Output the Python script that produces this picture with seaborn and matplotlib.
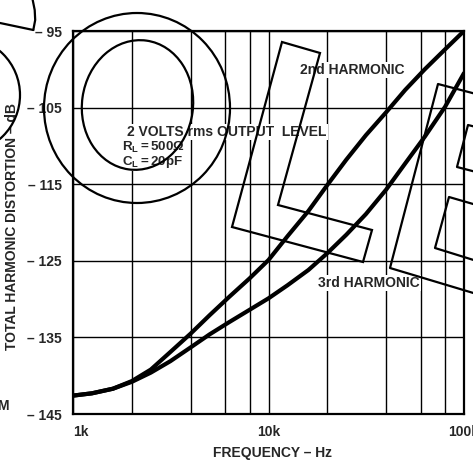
import matplotlib
matplotlib.use("Agg")
import numpy as np
import pandas as pd
import matplotlib.pyplot as plt
import seaborn as sns
from matplotlib.patches import Ellipse, Polygon
from matplotlib.lines import Line2D
from matplotlib.transforms import Affine2D
from matplotlib.ticker import NullFormatter

# Distortion vs. frequency, 2 V rms output
freq_hz = [1000, 1250, 1600, 2000, 2500, 3150, 4000, 5000, 6300, 8000, 10000,
           12500, 16000, 20000, 25000, 31500, 40000, 50000, 63000, 80000, 100000]
thd_2nd = [-142.6, -142.3, -141.7, -140.7, -139.2, -136.9, -134.5, -132.1,
           -129.7, -127.3, -124.9, -121.8, -118.5, -115.1, -111.8, -108.6,
           -105.6, -102.7, -100.0, -97.4, -95.0]
thd_3rd = [-142.6, -142.3, -141.7, -140.8, -139.6, -138.1, -136.3, -134.6,
           -133.0, -131.4, -129.9, -128.2, -126.2, -124.0, -121.6, -118.9,
           -115.7, -112.3, -108.8, -104.9, -100.5]

x_ticks = [1000, 10000, 100000]
x_tick_labels = ["1k", "10k", "100k"]
x_grid = [2000, 4000, 6000, 8000, 20000, 40000, 60000, 80000]
db_ticks = [-145, -135, -125, -115, -105, -95]

sns.set_style("white")
plt.rcParams["font.family"] = ["Liberation Sans", "DejaVu Sans"]
plt.rcParams["font.weight"] = "bold"
plt.rcParams["mathtext.fontset"] = "custom"
plt.rcParams["mathtext.rm"] = "Liberation Sans:bold"
plt.rcParams["mathtext.bf"] = "Liberation Sans:bold"
plt.rcParams["mathtext.it"] = "Liberation Sans:bold"

W, H = 473, 465
fig = plt.figure(figsize=(W / 100, H / 100), dpi=100)
ax = fig.add_axes([73 / W, 1 - 414 / H, (464 - 73) / W, (414 - 31) / H])
ax.set_xscale("log")

df = pd.DataFrame({
    "freq": freq_hz * 2,
    "thd": thd_2nd + thd_3rd,
    "harmonic": ["2nd"] * len(freq_hz) + ["3rd"] * len(freq_hz),
})
sns.lineplot(data=df, x="freq", y="thd", hue="harmonic",
             palette=["black", "black"], linewidth=3.0, legend=False,
             ax=ax, zorder=3)
for ln in ax.lines:
    ln.set_solid_capstyle("round")
    ln.set_solid_joinstyle("round")

ax.set_xlim(1000, 100000)
ax.set_ylim(-145, -95)
ax.set_xlabel("")
ax.set_ylabel("")
ax.set_xticks(x_ticks, x_tick_labels)
ax.set_xticks(x_grid, minor=True)
ax.xaxis.set_minor_formatter(NullFormatter())
ax.set_yticks(db_ticks, [f"\u2013 {abs(v)}" for v in db_ticks])
ax.set_axisbelow(True)
ax.grid(True, which="both", axis="x", color="black", lw=1.0)
ax.grid(True, which="major", axis="y", color="black", lw=1.0)
ax.tick_params(which="both", length=0)
ax.tick_params(axis="y", pad=8, labelsize=10)
ax.tick_params(axis="x", pad=8, labelsize=10)
for lab in ax.get_xticklabels() + ax.get_yticklabels():
    lab.set_fontweight("bold")
ax.get_xticklabels()[0].set_horizontalalignment("left")
for s in ax.spines.values():
    s.set_color("black")
    s.set_linewidth(1.6)

# pixel coordinates, origin at the top-left corner of the figure
px = Affine2D().scale(1 / W, -1 / H).translate(0, 1) + fig.transFigure

box = dict(facecolor="white", edgecolor="none", pad=1.0)
ax.text(300, 70, "2nd HARMONIC", transform=px, ha="left", va="center",
        fontsize=10, fontweight="bold", bbox=box, zorder=2.5)
ax.text(318, 283, "3rd HARMONIC", transform=px, ha="left", va="center",
        fontsize=10, fontweight="bold", bbox=box, zorder=2.5)
ax.text(127, 132, "2 VOLTS rms OUTPUT  LEVEL", transform=px, ha="left",
        va="center", fontsize=10, fontweight="bold", bbox=box, zorder=2.5)
ax.text(122, 147, r"$\mathbf{R_L = 500\Omega}$", transform=px, ha="left",
        va="center", fontsize=9.6, bbox=box, zorder=2.5)
ax.text(122, 162, r"$\mathbf{C_L = 20pF}$", transform=px, ha="left",
        va="center", fontsize=9.6, bbox=box, zorder=2.5)

fig.text(12, 226, "TOTAL HARMONIC DISTORTION \u2013 dB", transform=px,
         rotation=90, ha="center", va="center", fontsize=10,
         fontweight="bold")
fig.text(272, 453, "FREQUENCY \u2013 Hz", transform=px, ha="center",
         va="center", fontsize=10, fontweight="bold")
fig.text(3, 406, "M", transform=px, ha="center", va="center", fontsize=10,
         fontweight="bold")

# hand-drawn outlines over the chart
pen = dict(fill=False, ec="black", lw=1.6, transform=px, zorder=5)
fig.add_artist(Ellipse((137, 108), 186, 190, **pen))
fig.add_artist(Ellipse((137.5, 105), 111, 130, angle=8, **pen))
fig.add_artist(Ellipse((-38, 95), 116, 116, **pen))
fig.add_artist(Polygon([(282, 42), (320, 53), (278, 205), (372, 230),
                        (363, 262), (232, 227)], closed=True, **pen))
line = dict(color="black", lw=1.6, transform=px, zorder=5)
fig.add_artist(Line2D([0, 33.3], [23, 30], **line))
fig.add_artist(Line2D([32.3, 34.7, 35.2, 33.3], [-2, 10, 20, 30], **line))
fig.add_artist(Line2D([480, 438, 390, 480], [95, 84, 268, 295], **line))
fig.add_artist(Line2D([480, 468, 457, 480], [128, 125, 167, 173], **line))
fig.add_artist(Line2D([480, 449, 435, 480], [206, 197, 248, 262], **line))

fig.savefig("out.png", dpi=100)
